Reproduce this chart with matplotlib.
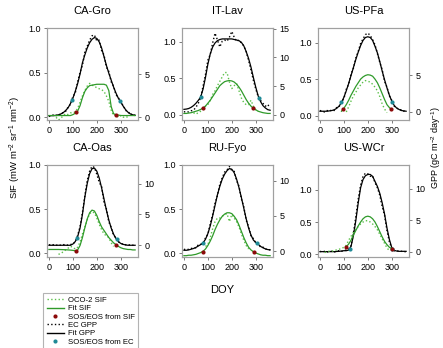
import numpy as np
import matplotlib
matplotlib.use("Agg")
import matplotlib.pyplot as plt
from matplotlib.lines import Line2D

plt.rcParams['font.family'] = ['Liberation Sans', 'DejaVu Sans']
plt.rcParams['mathtext.default'] = 'regular'

nan = np.nan

# day of year grid shared by all series
doy = [0, 10, 20, 30, 40, 50, 60, 70, 80, 90, 100, 110, 120, 130, 140, 150, 160, 170, 180,
       190, 200, 210, 220, 230, 240, 250, 260, 270, 280, 290, 300, 310, 320, 330, 340, 350, 360]

sites = ['CA-Gro', 'IT-Lav', 'US-PFa', 'CA-Oas', 'RU-Fyo', 'US-WCr']

# --- CA-Gro ---
ca_gro_gpp_obs = [0.1, 0.2, 0.3, 0.2, 0.35, 0.3, 0.6, 0.7, 1.2, 1.5, 2.4, 2.8, 4.1, 5.2, 6.0, 7.5, 8.2, 8.9, 9.4,
                  9.5, 8.8, 8.9, 7.7, 7.2, 5.8, 5.3, 4.1, 3.6, 2.6, 2.3, 1.6, 1.4, 0.8, 0.7, 0.3, 0.4, 0.2]
ca_gro_gpp_fit = [0.2, 0.2, 0.2, 0.25, 0.3, 0.4, 0.55, 0.8, 1.1, 1.6, 2.2, 3.0, 3.9, 5.0, 6.3, 7.2, 8.0, 8.6, 9.0,
                  9.2, 9.1, 8.7, 8.0, 7.0, 6.0, 5.1, 4.3, 3.5, 2.8, 2.2, 1.8, 1.3, 0.9, 0.6, 0.4, 0.3, 0.25]
ca_gro_sif_obs = [nan, nan, nan, 0.0, -0.03, -0.01, 0.02, 0.04, 0.03, 0.05, 0.05, 0.06, 0.10, 0.17, 0.24, 0.30,
                  0.35, 0.38, 0.36, 0.35, 0.33, 0.32, 0.31, 0.29, 0.24, 0.18, 0.08, 0.02, 0.03, 0.00, 0.02,
                  0.00, 0.01, 0.00, nan, nan, nan]
ca_gro_sif_fit = [0.02, 0.02, 0.02, 0.02, 0.02, 0.02, 0.02, 0.02, 0.02, 0.02, 0.03, 0.045, 0.07, 0.13, 0.22, 0.29,
                  0.33, 0.355, 0.36, 0.365, 0.37, 0.37, 0.37, 0.37, 0.36, 0.30, 0.12, 0.04, 0.03, 0.025, 0.02,
                  0.02, 0.02, 0.02, 0.02, 0.02, 0.02]
ca_gro_sos_sif = [(115, 0.056), (282, 0.026)]
ca_gro_sos_ec = [(97, 2.0), (298, 1.9)]

# --- IT-Lav ---
it_lav_gpp_obs = [0.5, 0.6, 0.5, 0.7, 0.8, 1.3, 2.0, 3.0, 5.0, 7.0, 9.5, 10.5, 12.5, 14.2, 13.0, 11.8, 12.8, 13.0,
                  12.8, 13.5, 14.5, 13.5, 12.8, 13.0, 12.5, 12.0, 11.0, 9.5, 7.8, 6.0, 4.5, 3.2, 2.5, 2.0, 1.5,
                  1.8, 1.2]
it_lav_gpp_fit = [0.95, 1.0, 1.1, 1.3, 1.6, 2.0, 2.5, 3.1, 4.5, 6.5, 8.8, 10.6, 11.8, 12.5, 12.9, 13.1, 13.2, 13.2,
                  13.2, 13.2, 13.2, 13.1, 13.0, 12.9, 12.6, 12.0, 11.0, 9.8, 8.3, 6.5, 4.8, 3.3, 2.3, 1.6, 1.2,
                  0.9, 0.8]
it_lav_sif_obs = [nan, nan, nan, nan, 0.03, 0.01, 0.03, 0.05, 0.07, 0.12, 0.14, 0.20, 0.28, 0.33, 0.40, 0.46,
                  0.52, 0.58, 0.58, 0.45, 0.36, 0.40, 0.43, 0.33, 0.23, 0.17, 0.14, 0.14, 0.20, 0.12, 0.07, 0.05,
                  nan, nan, nan, nan, nan]
it_lav_sif_fit = [0.02, 0.02, 0.025, 0.03, 0.04, 0.05, 0.06, 0.075, 0.095, 0.12, 0.16, 0.20, 0.25, 0.30, 0.35,
                  0.40, 0.43, 0.455, 0.465, 0.47, 0.465, 0.45, 0.42, 0.38, 0.33, 0.27, 0.21, 0.16, 0.12, 0.09,
                  0.07, 0.05, 0.04, 0.03, 0.025, 0.02, 0.02]
it_lav_sos_sif = [(78, 0.09), (290, 0.09)]
it_lav_sos_ec = [(72, 3.1), (312, 3.0)]

# --- US-PFa ---
us_pfa_gpp_obs = [0.2, 0.1, 0.0, 0.2, 0.1, 0.3, 0.2, 0.6, 0.7, 1.4, 1.8, 3.1, 3.8, 5.2, 6.0, 7.4, 8.3, 9.4, 10.0,
                  10.6, 10.8, 10.5, 9.9, 9.2, 8.0, 6.8, 5.8, 4.2, 3.4, 2.2, 1.6, 0.8, 0.6, 0.3, 0.3, 0.1, 0.2]
us_pfa_gpp_fit = [0.1, 0.1, 0.1, 0.1, 0.15, 0.2, 0.3, 0.5, 0.8, 1.3, 2.0, 2.9, 3.9, 5.0, 6.1, 7.2, 8.2, 9.1, 9.8,
                  10.2, 10.3, 10.2, 9.8, 9.0, 8.1, 6.9, 5.6, 4.4, 3.3, 2.3, 1.5, 0.9, 0.55, 0.35, 0.2, 0.15, 0.1]
us_pfa_sif_obs = [nan, nan, nan, nan, nan, nan, nan, nan, nan, nan, nan, 0.05, 0.12, 0.20, 0.27, 0.32, 0.38, 0.42,
                  0.46, 0.48, 0.47, 0.46, 0.43, 0.39, 0.34, 0.26, 0.16, 0.09, 0.04, nan, nan, nan, nan, nan,
                  nan, nan, nan]
us_pfa_sif_fit = [nan, nan, nan, nan, nan, nan, nan, nan, nan, 0.06, 0.10, 0.15, 0.21, 0.28, 0.34, 0.40, 0.45,
                  0.50, 0.53, 0.55, 0.56, 0.555, 0.54, 0.50, 0.45, 0.38, 0.30, 0.22, 0.15, 0.11, 0.08, nan,
                  nan, nan, nan, nan, nan]
us_pfa_sos_sif = [(95, 0.085), (298, 0.085)]
us_pfa_sos_ec = [(90, 1.3), (302, 1.4)]

# --- CA-Oas ---
ca_oas_gpp_obs = [0.1, 0.0, 0.1, 0.0, 0.1, 0.0, 0.1, 0.1, 0.0, 0.1, 0.3, 0.5, 1.6, 3.0, 5.3, 8.0, 10.5, 12.0,
                  12.8, 12.6, 11.5, 10.2, 9.5, 7.0, 5.9, 3.8, 2.9, 1.6, 1.2, 0.5, 0.4, 0.1, 0.1, 0.0, 0.1, 0.0, 0.1]
ca_oas_gpp_fit = [0.0, 0.0, 0.0, 0.0, 0.0, 0.0, 0.0, 0.0, 0.0, 0.0, 0.2, 0.6, 1.4, 2.8, 5.0, 7.8, 10.0, 11.6,
                  12.4, 12.5, 12.0, 10.9, 9.3, 7.5, 5.7, 4.1, 2.8, 1.8, 1.1, 0.6, 0.3, 0.15, 0.05, 0.0, 0.0,
                  0.0, 0.0]
ca_oas_sif_obs = [nan, nan, nan, nan, -0.01, 0.0, 0.02, 0.04, 0.06, 0.08, 0.07, 0.05, 0.07, 0.13, 0.22, 0.30,
                  0.38, 0.45, 0.47, 0.46, 0.40, 0.33, 0.27, 0.22, 0.20, 0.18, 0.12, 0.08, nan, nan, nan, nan,
                  nan, nan, nan, nan, nan]
ca_oas_sif_fit = [0.045, 0.045, 0.045, 0.045, 0.045, 0.044, 0.043, 0.042, 0.04, 0.038, 0.035, 0.03, 0.04, 0.09,
                  0.18, 0.29, 0.39, 0.46, 0.49, 0.48, 0.43, 0.36, 0.30, 0.26, 0.22, 0.18, 0.15, 0.12, 0.10,
                  0.08, 0.065, 0.055, 0.05, 0.045, 0.045, 0.04, 0.04]
ca_oas_sos_sif = [(114, 0.03), (280, 0.10)]
ca_oas_sos_ec = [(117, 1.1), (284, 1.0)]

# --- RU-Fyo ---
ru_fyo_gpp_obs = [0.3, 0.2, 0.3, 0.4, 0.5, 0.5, 0.9, 1.0, 1.1, 1.9, 2.4, 3.9, 5.2, 6.8, 7.9, 9.5, 10.4, 11.2,
                  11.5, 12.0, 11.4, 11.3, 10.0, 9.2, 7.4, 6.3, 4.4, 3.5, 2.2, 1.8, 1.2, 1.1, 0.6, 0.6, 0.3, 0.3, 0.2]
ru_fyo_gpp_fit = [0.15, 0.15, 0.2, 0.3, 0.4, 0.55, 0.75, 0.95, 1.2, 1.7, 2.5, 3.6, 5.0, 6.5, 8.0, 9.2, 10.2, 10.9,
                  11.4, 11.7, 11.6, 11.1, 10.2, 9.0, 7.6, 6.1, 4.6, 3.3, 2.3, 1.6, 1.25, 1.0, 0.7, 0.5, 0.35,
                  0.25, 0.2]
ru_fyo_sif_obs = [nan, nan, nan, nan, nan, nan, nan, nan, nan, 0.08, 0.10, 0.18, 0.28, 0.36, 0.40, 0.40, 0.42,
                  0.44, 0.45, 0.36, 0.44, 0.40, 0.36, 0.30, 0.22, 0.15, 0.09, 0.05, nan, nan, nan, nan, nan,
                  nan, nan, nan, nan]
ru_fyo_sif_fit = [-0.025, -0.025, -0.02, -0.02, -0.015, -0.01, 0.0, 0.01, 0.025, 0.05, 0.09, 0.14, 0.20, 0.27,
                  0.33, 0.38, 0.42, 0.445, 0.46, 0.46, 0.45, 0.42, 0.38, 0.32, 0.25, 0.18, 0.12, 0.07, 0.04,
                  0.02, 0.005, -0.005, -0.015, -0.02, -0.02, -0.025, -0.025]
ru_fyo_sos_sif = [(79, 0.02), (292, 0.02)]
ru_fyo_sos_ec = [(79, 1.15), (306, 1.15)]

# --- US-WCr ---
us_wcr_gpp_obs = [0.1, 0.0, 0.1, 0.0, 0.1, 0.1, 0.0, 0.1, 0.2, 0.1, 0.2, 0.3, 0.4, 1.0, 3.0, 5.6, 8.4, 10.6,
                  12.0, 12.5, 12.4, 12.0, 12.1, 11.0, 10.2, 9.0, 7.2, 5.8, 3.4, 1.6, 0.6, 0.2, 0.1, 0.2, 0.1,
                  0.1, 0.0]
us_wcr_gpp_fit = [0.05, 0.05, 0.05, 0.05, 0.05, 0.05, 0.05, 0.08, 0.1, 0.15, 0.2, 0.2, 0.3, 0.9, 2.6, 5.0, 7.8,
                  10.2, 11.5, 12.1, 12.3, 12.3, 12.0, 11.2, 10.4, 9.3, 7.8, 6.0, 3.8, 2.0, 0.7, 0.25, 0.15, 0.1,
                  0.1, 0.1, 0.1]
us_wcr_sif_obs = [nan, nan, 0.03, 0.04, 0.05, 0.05, 0.06, 0.07, 0.08, 0.09, 0.11, 0.14, 0.22, 0.28, 0.34, 0.39,
                  0.43, 0.47, 0.50, 0.52, 0.52, 0.50, 0.47, 0.43, 0.38, 0.31, 0.24, 0.17, 0.10, 0.06, nan, nan,
                  nan, nan, nan, nan, nan]
us_wcr_sif_fit = [nan, nan, nan, nan, nan, nan, nan, nan, nan, nan, nan, 0.115, 0.16, 0.22, 0.30, 0.37, 0.44,
                  0.50, 0.55, 0.58, 0.59, 0.58, 0.55, 0.50, 0.43, 0.35, 0.27, 0.20, 0.15, 0.11, 0.09, nan, nan,
                  nan, nan, nan, nan]
us_wcr_sos_sif = [(109, 0.115), (301, 0.085)]
us_wcr_sos_ec = [(125, 0.4), (300, 0.5)]

gpp_obs = [ca_gro_gpp_obs, it_lav_gpp_obs, us_pfa_gpp_obs, ca_oas_gpp_obs, ru_fyo_gpp_obs, us_wcr_gpp_obs]
gpp_fit = [ca_gro_gpp_fit, it_lav_gpp_fit, us_pfa_gpp_fit, ca_oas_gpp_fit, ru_fyo_gpp_fit, us_wcr_gpp_fit]
sif_obs = [ca_gro_sif_obs, it_lav_sif_obs, us_pfa_sif_obs, ca_oas_sif_obs, ru_fyo_sif_obs, us_wcr_sif_obs]
sif_fit = [ca_gro_sif_fit, it_lav_sif_fit, us_pfa_sif_fit, ca_oas_sif_fit, ru_fyo_sif_fit, us_wcr_sif_fit]
sos_sif = [ca_gro_sos_sif, it_lav_sos_sif, us_pfa_sos_sif, ca_oas_sos_sif, ru_fyo_sos_sif, us_wcr_sos_sif]
sos_ec = [ca_gro_sos_ec, it_lav_sos_ec, us_pfa_sos_ec, ca_oas_sos_ec, ru_fyo_sos_ec, us_wcr_sos_ec]

sif_ylim = [(-0.03, 1.0), (-0.07, 1.19), (-0.06, 1.2), (-0.04, 1.0), (-0.04, 1.0), (-0.04, 1.38)]
gpp_ylim = [(-0.3, 10.3), (-0.9, 15.1), (-1.1, 11.5), (-1.9, 13.0), (-0.8, 12.2), (-0.8, 13.8)]
gpp_ticks = [[0, 5], [0, 5, 10, 15], [0, 5], [0, 5, 10], [0, 5, 10], [0, 5, 10]]

green = '#2f9a2a'
light_green = '#5cc14a'
red = '#8b0a0a'
teal = '#1f8a96'
frame = '#a0a0a0'

W, H = 443, 348
fig = plt.figure(figsize=(W / 100, H / 100), dpi=100)

lefts = [47, 182, 318]
tops = [28, 165]
aw, ah = 91, 92

for i, site in enumerate(sites):
    r, c = divmod(i, 3)
    ax = fig.add_axes([lefts[c] / W, 1 - (tops[r] + ah) / H, aw / W, ah / H])
    ax2 = ax.twinx()
    ax.set_zorder(ax2.get_zorder() + 1)
    ax.patch.set_visible(False)

    ax2.plot(doy, np.array(gpp_obs[i], dtype=float), color='k', ls=':', lw=1.0)
    ax2.plot(doy, np.array(gpp_fit[i], dtype=float), color='k', lw=0.9)
    ax2.plot([p[0] for p in sos_ec[i]], [p[1] for p in sos_ec[i]], 'o', color=teal, ms=3, mec='none')

    ax.plot(doy, np.array(sif_obs[i], dtype=float), color=light_green, ls=':', lw=1.0)
    ax.plot(doy, np.array(sif_fit[i], dtype=float), color=green, lw=0.9)
    ax.plot([p[0] for p in sos_sif[i]], [p[1] for p in sos_sif[i]], 'o', color=red, ms=3, mec='none')

    ax.set_xlim(-8, 372)
    ax.set_ylim(*sif_ylim[i])
    ax2.set_ylim(*gpp_ylim[i])
    ax.set_xticks([0, 100, 200, 300])
    ax.set_yticks([0.0, 0.5, 1.0])
    ax.set_yticklabels(['0.0', '0.5', '1.0'])
    ax2.set_yticks(gpp_ticks[i])

    for a in (ax, ax2):
        for s in a.spines.values():
            s.set_color(frame)
            s.set_linewidth(0.8)
        a.tick_params(direction='out', length=2.5, width=0.6, color='#666666', labelsize=6.5, pad=2)

    ax.set_title(site, fontsize=8, pad=10)

fig.text(222 / W, 1 - 290 / H, 'DOY', ha='center', va='center', fontsize=8)
fig.text(15 / W, 1 - 148 / H, r'SIF (mW m$^{-2}$ sr$^{-1}$ nm$^{-2}$)', rotation=90,
         ha='center', va='center', fontsize=6.8)
fig.text(436 / W, 1 - 148 / H, r'GPP (gC m$^{-2}$ day$^{-1}$)', rotation=90,
         ha='center', va='center', fontsize=6.5)

handles = [
    Line2D([], [], color=light_green, ls=':', lw=1.0),
    Line2D([], [], color=green, lw=1.0),
    Line2D([], [], color=red, marker='o', ls='none', ms=3, mec='none'),
    Line2D([], [], color='k', ls=':', lw=1.0),
    Line2D([], [], color='k', lw=1.0),
    Line2D([], [], color=teal, marker='o', ls='none', ms=3, mec='none'),
]
labels = ['OCO-2 SIF', 'Fit SIF', 'SOS/EOS from SIF', 'EC GPP', 'Fit GPP', 'SOS/EOS from EC']
leg = fig.legend(handles, labels, loc='upper left', bbox_to_anchor=(43 / W, 1 - 293 / H),
                 fontsize=5.6, frameon=True, fancybox=False, edgecolor=frame, labelspacing=0.12,
                 handlelength=2.2, handletextpad=0.5, borderpad=0.45, borderaxespad=0)
leg.get_frame().set_linewidth(0.8)

fig.savefig('out.png', dpi=100)
